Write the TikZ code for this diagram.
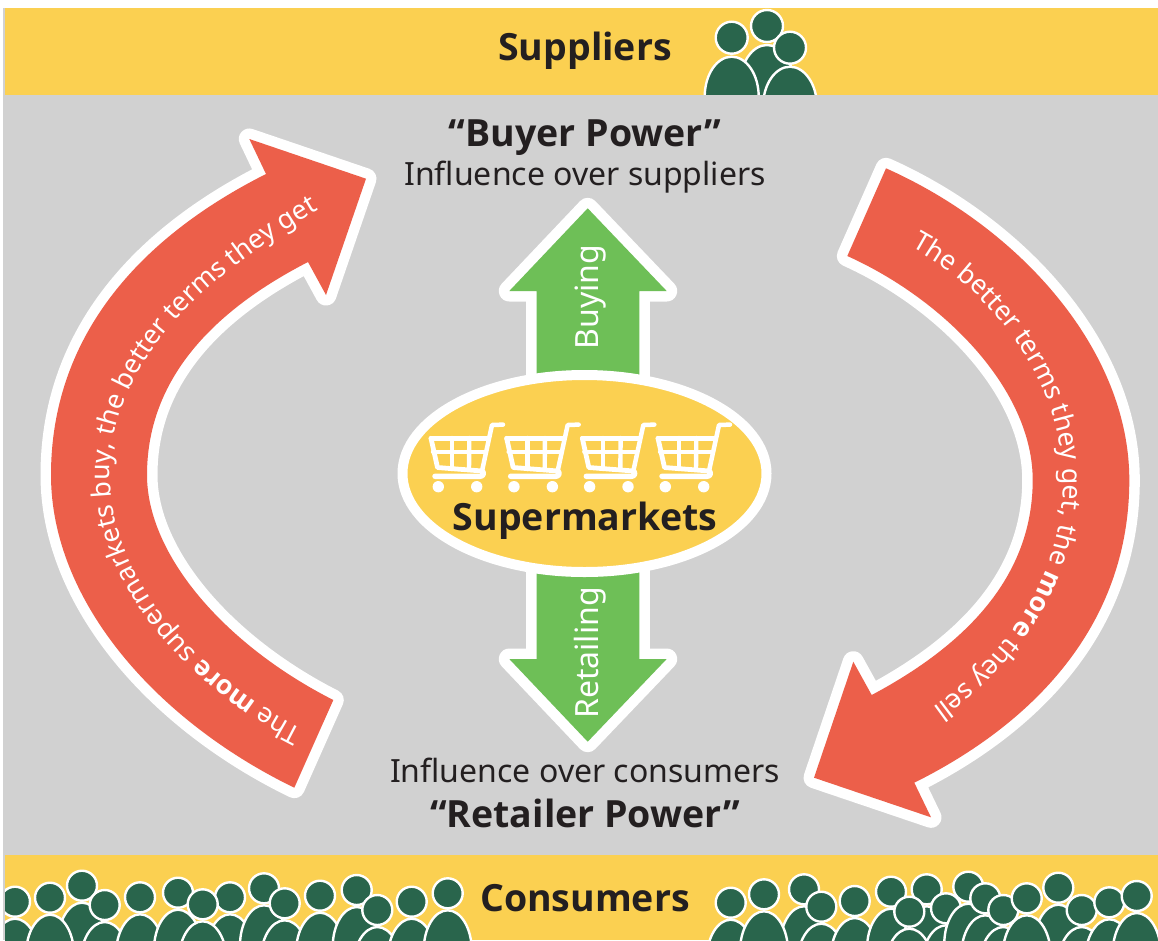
\documentclass[tikz,border=0pt]{standalone}
\usepackage{fontspec}
\setmainfont{Noto Sans}
\newfontfamily\osf{Open Sans}
\usetikzlibrary{decorations.text}
\definecolor{bandyel}{HTML}{FBD051}
\definecolor{greybg}{HTML}{D1D1D1}
\definecolor{redarr}{HTML}{EC5F4A}
\definecolor{greenarr}{HTML}{6EBF57}
\definecolor{darkgr}{HTML}{29654C}
\definecolor{inkc}{HTML}{231F20}
\newcommand{\fs}[1]{\fontsize{#1}{#1}\selectfont}
\newcommand{\rf}{\fs{26.7}\color{white}}
\newcommand{\bff}{\osf\bfseries\fs{26.7}\color{white}}
\tikzset{
  whiteout/.style={draw=white,line width=21pt,line join=round},
  redfill/.style={fill=redarr},
  greenfill/.style={fill=greenarr},
  lab/.style={text=inkc,inner sep=0pt,anchor=base,font=\fs{32}},
  blab/.style={text=inkc,inner sep=0pt,anchor=base,font=\osf\bfseries\fs{37.5}},
  glab/.style={text=white,inner sep=0pt,anchor=base,font=\fs{32},rotate=90},
  bodyst/.style={fill=darkgr,draw=white,line width=2.4pt},
  cartst/.style={draw=white,line cap=round,line join=round},
  pics/cart/.style={code={
    \draw[cartst,line width=4.5pt] (103,44.6) -- (92,45) -- (82,91);
    \draw[cartst,line width=4.8pt] (31,58.3) -- (88,58.3);
    \draw[cartst,line width=4.8pt] (31,58.3) -- (37.5,87.5) -- (82,91);
    \draw[cartst,line width=5.5pt] (35,96.3) -- (80,96.3) .. controls (84,96.3) and (84,92) .. (82,91);
    \draw[cartst,line width=4.4pt] (33,71.7) -- (85,71.7);
    \draw[cartst,line width=4.4pt] (51.7,58) -- (51.7,89);
    \draw[cartst,line width=4.4pt] (69.3,58) -- (69,90);
    \fill[white] (38.3,106.7) circle[radius=5.7pt];
    \fill[white] (76.7,106.7) circle[radius=5.7pt];
  }},
  pics/person/.style={code={
    \draw[bodyst] (0,#1) ellipse[x radius=24pt,y radius=40pt];
    \draw[bodyst] (0,0) circle[radius=15pt];
  }},
  pics/bigperson/.style={code={
    \draw[bodyst] (0,59) ellipse[x radius=27pt,y radius=40pt];
    \draw[bodyst] (0,0) circle[radius=16pt];
  }}
}
\begin{document}
\begin{tikzpicture}[x=1pt,y=-1pt]
\useasboundingbox (0,0) rectangle (1158,940);
\fill[white] (0,0) rectangle (1158,940);
\fill[greybg] (3,8) rectangle (1158,940);
\fill[bandyel] (5,8) rectangle (1158,94.5);
\fill[bandyel] (5,855) rectangle (1158,940);
% suppliers people
\begin{scope}
\clip (5,8) rectangle (1158,94.5);
\pic at (767,26) {bigperson};
\pic at (731.7,37.7) {bigperson};
\pic at (790,47.7) {bigperson};
\end{scope}
% consumers people
\begin{scope}
\clip (5,855) rectangle (1158,940);
\foreach \px/\py in {82/885.7,104.7/905,15/901.7,50/897.7,140/897.3,178/892.7,230/897.3,202.7/904.3,264/888.3,284.7/903.3,320/895.7,356.7/890,377.3/910,411.7/901.7,447.7/893.3,
 730.7/902.7,804/889.3,764/894.3,821.3/906.7,854.7/901,891/891.7,926.7/889.3,909.3/911.7,946/908.3,968.3/886.7,985.3/898.3,1003.3/910,1058.3/887.7,1026.7/898.3,1081.7/910,1109.3/902.3,1136.7/896}
  \pic at (\px,\py) {person=57};
\end{scope}
% left arrow
\def\leftarrowpath{(308,262) .. controls (205,315) and (147,385) .. (147,475) .. controls (147,555) and (225,645) .. (333.3,700) -- (294.3,787.7) .. controls (155,720) and (51,600) .. (51,475) .. controls (51,340) and (135,240) .. (266,174) -- (249.3,139) -- (366,178.7) -- (326,295) -- cycle}
\def\rightarrowpath{(886,168.3) .. controls (1020,228) and (1129.3,350) .. (1129.3,480) .. controls (1129.3,620) and (1040,720) .. (914.3,782.7) -- (931,817.3) -- (814,777.7) -- (853.3,661.7) -- (871.7,695) .. controls (975,640) and (1032.7,570) .. (1032.7,480) .. controls (1032.7,390) and (945,300) .. (847.3,256) -- cycle}
\draw[whiteout] \leftarrowpath;
\fill[redfill] \leftarrowpath;
\draw[whiteout] \rightarrowpath;
\fill[redfill] \rightarrowpath;
\path[decorate,decoration={text along path,text align=left,
  text={|\rf|The |||\bff|more|||\rf| supermarkets buy, the better terms they get}}]
  (303,729) .. controls (215,685) and (110,590) .. (110,475) .. controls (110,370) and (190,280) .. (345,195);
\path[decorate,decoration={text along path,text align=left,
  text={|\rf|The better terms they get, the |||\bff|more|||\rf| they sell}}]
  (911,247) .. controls (1000,295) and (1063,390) .. (1063,480) .. controls (1063,570) and (1012,665) .. (895,732);
% green arrows
\def\uppath{(536.7,385) -- (536.7,291) -- (509.3,291) -- (587.7,208.3) -- (666.7,291) -- (639.3,291) -- (639.3,385) -- cycle}
\def\downpath{(536.7,565) -- (536.7,659) -- (509.3,659) -- (587.7,741.7) -- (666.7,659) -- (639.3,659) -- (639.3,565) -- cycle}
\draw[whiteout] \uppath;
\fill[greenfill] \uppath;
\draw[whiteout] \downpath;
\fill[greenfill] \downpath;
\node[glab] (buying) at (598,297) {Buying};
\node[glab] (retailing) at (598.5,653) {Retailing};
% ellipse
\draw[draw=white,fill=bandyel,line width=10pt] (584.5,473.5) ellipse[x radius=182pt,y radius=98.5pt];
\foreach \cx in {0,75.67,151.33,227} \pic at (400+\cx,380) {cart};
% labels
\node[blab] (sup) at (585,60) {Suppliers};
\node[blab] (bp) at (585,146) {“Buyer Power”};
\node[lab] (inf1) at (585,185) {Influence over suppliers};
\node[blab] (smk) at (585,530) {Supermarkets};
\node[lab] (inf2) at (585,782) {Influence over consumers};
\node[blab] (rp) at (585,827) {“Retailer Power”};
\node[blab] (con) at (585,911) {Consumers};
\end{tikzpicture}
\end{document}
